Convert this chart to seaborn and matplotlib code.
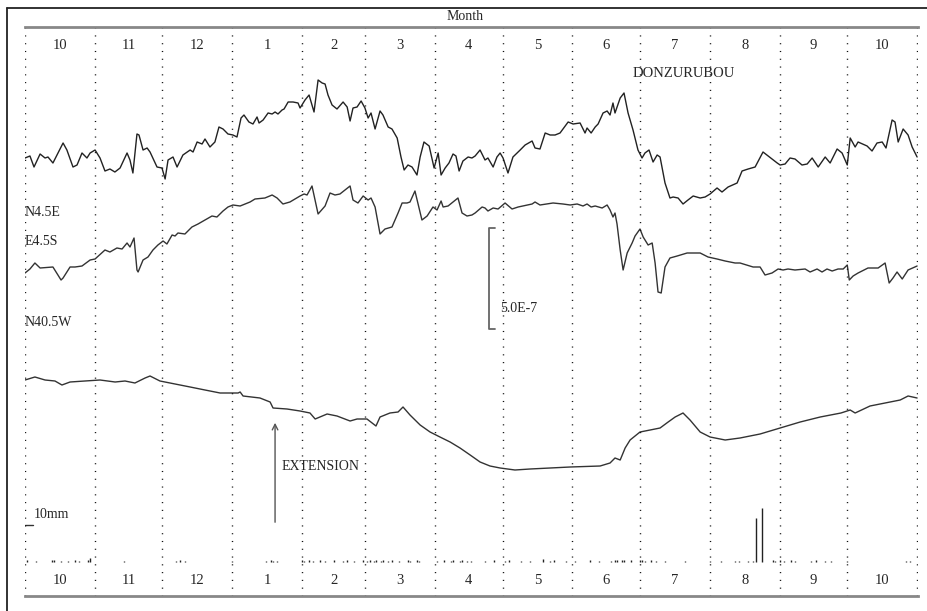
import numpy as np
import pandas as pd
import seaborn as sns
import matplotlib.pyplot as plt
from matplotlib.lines import Line2D

# day 0 = 1 Oct, strain in units of 1e-8, rain in mm
month_labels = ["10", "11", "12", "1", "2", "3", "4", "5", "6", "7", "8", "9", "10"]
month_days = [31, 30, 31, 31, 28, 31, 30, 31, 30, 31, 31, 30, 31]

n45e_day = [0, 2.2, 4.0, 6.7, 8.9, 10.2, 12.4, 16.9, 18.6, 21.3, 23.1, 25.3, 27.5, 28.9, 31.1, 33.3,
            35.5, 37.7, 39.9, 42.2, 45.3, 46.6, 47.9, 49.7, 50.6, 52.4, 54.2, 55.5, 58.6, 60.8, 62.2,
            63.5, 65.7, 67.5, 70.1, 73.3, 74.6, 76.4, 78.6, 79.9, 82.1, 84.3, 86.1, 87.9, 90.1, 92.3,
            94.1, 95.9, 97.2, 99.4, 101.2, 103.0, 103.9, 105.7, 107.9, 109.7, 111.0, 112.3, 114.1,
            115.0, 116.8, 119.0, 121.2, 122.1, 124.3, 126.1, 128.3, 130.1, 131.9, 133.2, 134.5, 136.3,
            138.5, 141.2, 143.0, 144.3, 145.6, 147.4, 149.2, 150.9, 152.3, 153.6, 155.4, 157.6, 158.9,
            161.2, 162.9, 165.2, 166.9, 168.3, 170.0, 171.8, 174.0, 175.4, 177.1, 179.4, 181.6, 183.4,
            184.7, 186.5, 188.2, 190.0, 191.3, 192.7, 194.4, 196.7, 198.4, 199.8, 202.0, 204.2, 205.5,
            207.8, 209.5, 210.9, 212.2, 214.4, 216.6, 219.8, 222.0, 225.1, 226.4, 228.6, 230.9, 233.1,
            235.3, 237.5, 241.1, 243.3, 246.4, 248.6, 249.5, 251.3, 253.1, 254.4, 256.6, 258.4, 259.7,
            261.0, 261.9, 264.2, 265.9, 267.7, 269.9, 272.1, 273.9, 275.2, 277.0, 278.8, 280.6, 281.9,
            284.1, 286.3, 287.7, 289.9, 292.1, 294.3, 296.6, 299.7, 301.9, 304.1, 307.2, 309.4, 312.1,
            316.1, 318.3, 321.0, 324.1, 327.6, 329.9, 333.9, 335.2, 337.4, 339.6, 341.8, 344.9, 347.2,
            349.4, 352.1, 355.2, 357.4, 360.5, 362.7, 365.0, 366.3, 368.5, 369.8, 373.8, 376.0, 378.2,
            380.5, 382.2, 384.9, 386.2, 387.6, 389.8, 392.0, 393.8, 396.0]
n45e_val = [0, 1, -4.5, 2, 0, 0.5, -2.5, 7.5, 4, -4.5, -3.5, 2.5, 0, 2.5, 4, 0,
            -6.5, -5.5, -7, -5, 2.5, -1, -7.5, 12, 11.5, 4, 5, 3, -4.5, -5, -10.5,
            -1, 0.5, -4.5, 1.5, 4, 3, 8, 7, 9.5, 5.5, 8, 15.5, 14.5, 12, 11.5,
            10.5, 20, 21.5, 18, 17, 20.5, 17.5, 19, 22.5, 22, 23, 22, 24,
            24.5, 28, 28, 27.5, 25, 29, 31.5, 23, 39, 37.5, 37, 31.5, 26.5,
            24.5, 28, 25.5, 18.5, 25, 25.5, 28.5, 25, 20, 22.5, 14.5, 23.5, 21.5,
            15.5, 14.5, 10, 0.5, -6, -3.5, -4.5, -8.5, 0.5, 8, 6, -5, 2.5,
            -8.5, -5, -2.5, 2, 1, -6.5, -1.5, 0.5, 0, 1, 4, -1, 0,
            -4.5, 0.5, 2.5, 0, -7.5, 0.5, 4, 6.5, 8.5, 5, 4.5, 12.5, 11.5,
            11.5, 12.5, 18, 17, 17.5, 12.5, 15, 12.5, 15.5, 17, 22.5, 23.5, 21.5,
            27.5, 22.5, 30, 32.5, 22.5, 14, 4, 0, 2.5, 4, -2, 1.5, 0.5,
            -12.5, -20, -19.5, -20, -23, -21, -19, -20, -19.5, -18, -15, -17, -14.5,
            -12.5, -6.5, -5.5, -4.5, 3, 1, -2.5, -3.5, -3, 0, -0.5, -3.5, -3,
            0, -4.5, 0.5, -2.5, 4.5, 2.5, -3.5, 10, 5.5, 8, 6, 3.5, 7.5,
            8, 5, 19, 18, 8, 14.5, 11.5, 5.5, 0.5]

e45s_day = [0, 2.2, 4.4, 6.7, 12.4, 16.0, 16.9, 20.0, 22.2, 25.3, 28.9, 31.1, 35.5, 37.7, 40.8,
            43.1, 45.3, 46.6, 48.4, 49.7, 50.2, 52.4, 54.6, 56.8, 59.0, 61.3, 63.0, 65.3, 66.6,
            67.9, 71.0, 74.1, 76.8, 79.9, 83.0, 85.2, 87.9, 90.1, 92.3, 95.5, 99.9, 102.1, 106.5,
            109.7, 111.9, 114.5, 117.6, 122.1, 123.9, 125.2, 127.4, 130.1, 133.2, 135.4, 137.6,
            139.8, 144.3, 145.6, 147.8, 150.1, 152.3, 153.6, 155.4, 157.6, 159.8, 162.9, 165.6,
            167.4, 169.6, 170.9, 173.1, 176.2, 178.5, 181.1, 182.9, 184.7, 185.6, 187.8, 192.2,
            194.0, 196.2, 198.4, 199.8, 202.9, 204.2, 205.5, 207.8, 210.0, 213.1, 216.2, 218.9,
            225.1, 226.4, 228.6, 234.4, 238.8, 242.0, 245.1, 247.7, 249.5, 251.3, 253.1, 256.2,
            258.4, 259.7, 261.0, 261.9, 262.8, 264.2, 265.5, 267.3, 269.5, 270.8, 273.0, 274.4,
            276.6, 278.4, 279.7, 281.0, 282.4, 284.1, 286.3, 289.5, 293.9, 299.7, 303.2, 307.2,
            310.8, 315.2, 317.4, 323.2, 326.3, 328.5, 331.6, 334.3, 336.5, 338.7, 341.8, 346.3,
            348.5, 351.6, 353.8, 356.0, 358.3, 360.9, 363.2, 365.0, 365.9, 367.6, 369.8, 374.2,
            378.7, 381.8, 383.6, 385.3, 387.1, 389.4, 392.0, 396.0]
e45s_val = [0, 2, 5, 2.5, 3, -3.5, -2.5, 3, 3, 3.5, 6.5, 7, 11.5, 10.5, 12.5,
            12, 15, 13, 17.5, 1.5, 0.5, 6.5, 8, 11.5, 14, 16, 14.5, 19, 18.5,
            20, 19.5, 23, 24.5, 26.5, 28.5, 28, 31, 33, 34, 33.5, 35.5, 37, 37.5,
            39, 37.5, 34.5, 35.5, 38.5, 39.5, 39, 43.5, 29.5, 33.5, 40, 39,
            39.5, 43.5, 36.5, 35, 38.5, 36.5, 37.5, 33, 19.5, 22, 23, 30,
            35, 35, 35.5, 41, 26.5, 28.5, 33, 31.5, 36, 33, 33.5, 37.5,
            30, 28.5, 29, 30, 33, 32.5, 31, 32.5, 32, 35, 32, 33,
            34.5, 35.5, 34, 35, 34.5, 34, 34.5, 33.5, 34.5, 33, 33.5, 32.5,
            34, 31.5, 28, 30, 24.5, 11.5, 1.5, 10, 15, 18.5, 22, 18,
            14, 15, 5, -9.5, -10, 3, 7.5, 8.5, 10, 10, 8, 7,
            6, 5, 5, 3, 3, -1, 0, 2, 1.5, 2, 1.5, 2,
            0.5, 2, 0.5, 2, 1, 2, 2, 4, -3.5, -1.5, 0, 2.5,
            2.5, 5, -5, -2.5, 0.5, -3, 1.5, 3.5]

n405w_day = [0, 4.4, 8.9, 13.3, 16.4, 20.0, 26.6, 33.3, 40.0, 44.4, 48.8, 53.3, 55.5, 59.9, 66.6,
             73.3, 79.9, 86.6, 94.6, 95.5, 96.8, 104.3, 108.8, 110.1, 116.3, 122.1, 126.5, 128.8,
             134.1, 138.5, 144.3, 147.4, 151.8, 155.8, 157.6, 162.0, 165.6, 167.8, 170.9, 175.4,
             179.8, 184.2, 188.7, 193.1, 197.6, 202.0, 206.4, 210.9, 217.5, 224.2, 233.1, 242.0,
             255.3, 259.7, 261.9, 264.2, 266.4, 268.6, 273.0, 277.5, 281.9, 285.5, 288.6, 292.1,
             295.2, 299.7, 304.1, 310.8, 317.4, 326.3, 335.2, 344.1, 353.0, 362.2, 366.3, 368.5,
             375.1, 381.8, 388.5, 392.0, 396.0]
n405w_val = [0, 1.5, 0, -0.5, -2.5, -1, -0.5, 0, -1, -0.5, -1.5, 1, 2, -0.5, -2,
             -3.5, -5, -6.5, -6.5, -6, -8, -9, -11, -14, -14.5, -15.5, -16.5, -19.5,
             -17, -18, -20.5, -19.5, -19.5, -23, -18.5, -16.5, -16, -13.5, -17.5, -22.5,
             -26, -28.5, -31, -34, -37.5, -41, -43, -44, -45, -44.5, -44, -43.5,
             -43, -41.5, -39, -40, -34, -30, -26, -25, -24, -21, -18.5, -16.5,
             -20, -26, -28.5, -30, -29, -27, -24, -21, -18.5, -16.5, -15, -16.5,
             -13, -11.5, -10, -8, -9]

rain_day = [1, 5, 12, 13, 16, 19, 22, 24, 28, 29, 44, 67, 69, 71, 92, 107, 109, 110, 112, 123,
            124, 126, 128, 131, 133, 137, 141, 143, 146, 150, 152, 153, 155, 156, 158, 159, 161,
            163, 166, 170, 171, 174, 175, 183, 186, 189, 190, 193, 194, 196, 198, 204, 208, 213,
            215, 220, 224, 230, 233, 235, 240, 244, 251, 255, 260, 262, 263, 265, 266, 269, 273,
            274, 275, 278, 280, 284, 293, 304, 309, 315, 317, 321, 323, 324.5, 327, 332, 333, 335,
            337, 340, 342, 349, 351, 355, 358, 365, 391, 393]
rain_mm = [0.5, 0.4, 0.6, 0.5, 0.4, 0.4, 0.5, 0.4, 0.5, 1.0, 0.4, 0.4, 0.5, 0.4, 0.4, 0.4, 0.5, 0.4, 0.4, 0.5,
           0.4, 0.5, 0.4, 0.5, 0.4, 0.6, 0.4, 0.5, 0.4, 0.5, 0.4, 0.5, 0.4, 0.5, 0.4, 0.5, 0.4,
           0.5, 0.4, 0.5, 0.4, 0.5, 0.4, 0.4, 0.5, 0.4, 0.5, 0.4, 0.5, 0.4, 0.4, 0.4, 0.5, 0.4,
           0.5, 0.4, 0.4, 0.9, 0.4, 0.5, 0.4, 0.4, 0.5, 0.4, 0.4, 0.5, 0.6, 0.5, 0.6, 0.5, 0.5,
           0.6, 0.4, 0.5, 0.4, 0.4, 0.4, 0.4, 0.4, 0.4, 0.4, 0.4, 0.4, 11.9, 14.6, 0.5, 0.4, 0.5,
           0.4, 0.5, 0.4, 0.4, 0.5, 0.4, 0.4, 0.4, 0.4, 0.4]

# layout (1e-8 units on the y axis)
offsets = {"N4.5E": 219, "E4.5S": 161.5, "N40.5W": 108}
rain_base = 17
rain_scale = 1.85  # y units per mm
serif = ["Liberation Serif", "DejaVu Serif"]

sns.set_style("white")
plt.rcParams["font.family"] = serif

fig = plt.figure(figsize=(9.27, 6.11), dpi=100)
ax = fig.add_axes([25 / 927, 15 / 611, 893 / 927, 569 / 611])
ax.set_xlim(0, 396.4)
ax.set_ylim(0, 284.5)

traces = [("N4.5E", n45e_day, n45e_val, "#222222"),
          ("E4.5S", e45s_day, e45s_val, "#333333"),
          ("N40.5W", n405w_day, n405w_val, "#333333")]
for name, d, v, c in traces:
    df = pd.DataFrame({"day": d, "strain": np.array(v) + offsets[name]})
    sns.lineplot(data=df, x="day", y="strain", ax=ax, color=c, lw=1.0, sort=False)

# rain bars
ax.vlines(rain_day, rain_base, rain_base + np.array(rain_mm) * rain_scale,
          color="#222222", lw=1.0)
ax.plot([0, 3.5], [rain_base + 10 * rain_scale] * 2, color="#333333", lw=1)
ax.text(4, rain_base + 10 * rain_scale + 5.5, "10mm", fontsize=10, va="center", ha="left")

# month boundaries and labels
edges = np.concatenate([[0], np.cumsum(month_days)])
for e in edges:
    ax.axvline(e, color="#111111", lw=1, ls=(0, (0.8, 4.8)))
for i, lab in enumerate(month_labels):
    mid = (edges[i] + edges[i + 1]) / 2
    ax.text(mid, 275.5, lab, ha="center", va="center", fontsize=10.5)
    ax.text(mid, 8, lab, ha="center", va="center", fontsize=10.5)

# component labels
ax.text(0, 192, "N4.5E", fontsize=10, va="center")
ax.text(0, 177.5, "E4.5S", fontsize=10, va="center")
ax.text(0, 137, "N40.5W", fontsize=10, va="center")
ax.text(269.5, 261.5, "DONZURUBOU", fontsize=10.5, va="center")

# strain scale bar 5.0E-7
sx = 206
ax.plot([sx + 2.7, sx, sx, sx + 2.7], [184, 184, 133.5, 133.5], color="#666666", lw=1.3)
ax.text(211, 144, "5.0E-7", fontsize=10, va="center")

# extension arrow
ax.annotate("", xy=(111, 88), xytext=(111, 35.5),
            arrowprops=dict(arrowstyle="->", color="#555555", lw=1))
ax.text(113.7, 65, "EXTENSION", fontsize=10, va="center")

for s in ["left", "right"]:
    ax.spines[s].set_visible(False)
for s in ["top", "bottom"]:
    ax.spines[s].set_color("#888888")
    ax.spines[s].set_linewidth(2)
ax.set_xticks([])
ax.set_yticks([])
ax.set_xlabel("")
ax.set_ylabel("")

fig.text(465 / 927, 1 - 17 / 611, "Month", ha="center", va="center", fontsize=10)
fig.add_artist(Line2D([7 / 927, 7 / 927], [0, 1 - 8 / 611], color="#222222", lw=1.3))
fig.add_artist(Line2D([7 / 927, 1], [1 - 8 / 611, 1 - 8 / 611], color="#222222", lw=1.3))

fig.savefig("out.png", dpi=100)
